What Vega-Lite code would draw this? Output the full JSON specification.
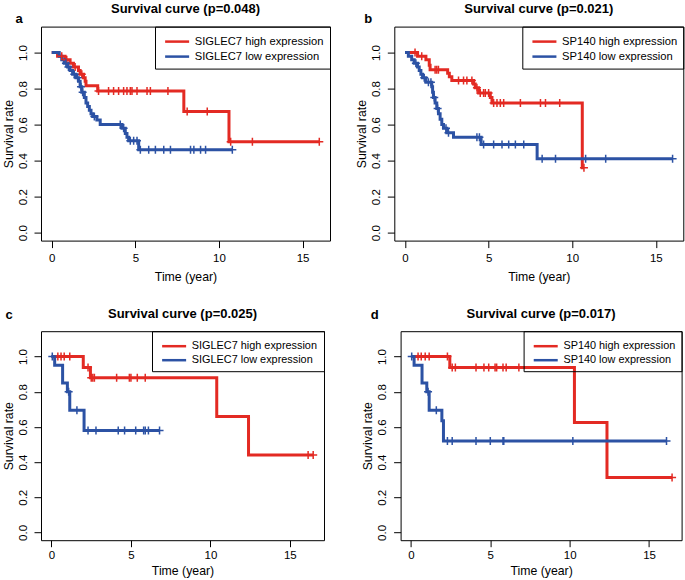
{
  "$schema": "https://vega.github.io/schema/vega-lite/v6.json",
  "padding": {"left": 1, "top": 1.6, "right": 0, "bottom": 0},
  "background": "white",
  "config": {
    "font": "Liberation Sans",
    "view": {"stroke": "#000", "strokeWidth": 1},
    "axis": {"grid": false, "domain": false, "ticks": true, "tickColor": "#000", "tickSize": 7, "tickWidth": 1, "labelFont": "Liberation Sans", "labelFontSize": 11.5, "labelColor": "#000", "labelPadding": 5, "labelFlush": false, "titleFont": "Liberation Sans", "titleFontSize": 12.3, "titleFontWeight": "normal", "titleColor": "#000"},
    "axisX": {"titlePadding": 6},
    "axisY": {"labelAngle": 270, "labelAlign": "center", "labelBaseline": "bottom", "labelPadding": 6, "titlePadding": 2},
    "title": {"font": "Liberation Sans", "fontSize": 13, "fontWeight": "bold", "color": "#000", "frame": "group", "anchor": "middle", "baseline": "alphabetic", "offset": 0},
    "legend": {"orient": "top-right", "offset": 0, "padding": 6, "strokeColor": "#000", "strokeWidth": 1, "labelFont": "Liberation Sans", "labelFontSize": 11.2, "labelColor": "#000", "labelOffset": 15.8, "rowPadding": 0, "symbolType": "M-0.65,0H2.55", "symbolSize": 225, "symbolStrokeWidth": 2.5, "labelLimit": 0}
  },
  "datasets": {
    "a": [
      {"g":"SIGLEC7 high expression","t":0,"s":1,"c":0},{"g":"SIGLEC7 high expression","t":0.35,"s":0.98,"c":0},{"g":"SIGLEC7 high expression","t":0.6,"s":0.98,"c":1},{"g":"SIGLEC7 high expression","t":0.8,"s":0.96,"c":0},{"g":"SIGLEC7 high expression","t":0.9,"s":0.96,"c":1},{"g":"SIGLEC7 high expression","t":1.1,"s":0.94,"c":0},{"g":"SIGLEC7 high expression","t":1.3,"s":0.92,"c":0},{"g":"SIGLEC7 high expression","t":1.4,"s":0.92,"c":1},{"g":"SIGLEC7 high expression","t":1.6,"s":0.9,"c":0},{"g":"SIGLEC7 high expression","t":1.7,"s":0.88,"c":0},{"g":"SIGLEC7 high expression","t":1.8,"s":0.88,"c":1},{"g":"SIGLEC7 high expression","t":1.9,"s":0.86,"c":0},{"g":"SIGLEC7 high expression","t":2.0,"s":0.84,"c":0},{"g":"SIGLEC7 high expression","t":2.05,"s":0.815,"c":0},{"g":"SIGLEC7 high expression","t":2.75,"s":0.787,"c":0},{"g":"SIGLEC7 high expression","t":2.8,"s":0.787,"c":1},{"g":"SIGLEC7 high expression","t":3.4,"s":0.787,"c":1},{"g":"SIGLEC7 high expression","t":3.7,"s":0.787,"c":1},{"g":"SIGLEC7 high expression","t":4.0,"s":0.787,"c":1},{"g":"SIGLEC7 high expression","t":4.3,"s":0.787,"c":1},{"g":"SIGLEC7 high expression","t":4.5,"s":0.787,"c":1},{"g":"SIGLEC7 high expression","t":4.7,"s":0.787,"c":1},{"g":"SIGLEC7 high expression","t":4.8,"s":0.787,"c":1},{"g":"SIGLEC7 high expression","t":5.1,"s":0.787,"c":1},{"g":"SIGLEC7 high expression","t":5.7,"s":0.787,"c":1},{"g":"SIGLEC7 high expression","t":5.9,"s":0.787,"c":1},{"g":"SIGLEC7 high expression","t":6.95,"s":0.787,"c":1},{"g":"SIGLEC7 high expression","t":7.9,"s":0.673,"c":0},{"g":"SIGLEC7 high expression","t":8.1,"s":0.673,"c":1},{"g":"SIGLEC7 high expression","t":9.3,"s":0.673,"c":1},{"g":"SIGLEC7 high expression","t":10.6,"s":0.505,"c":0},{"g":"SIGLEC7 high expression","t":10.7,"s":0.505,"c":1},{"g":"SIGLEC7 high expression","t":12.0,"s":0.505,"c":1},{"g":"SIGLEC7 high expression","t":16.0,"s":0.505,"c":1},
      {"g":"SIGLEC7 low expression","t":0,"s":1,"c":0},{"g":"SIGLEC7 low expression","t":0.45,"s":0.98,"c":0},{"g":"SIGLEC7 low expression","t":0.6,"s":0.96,"c":0},{"g":"SIGLEC7 low expression","t":0.75,"s":0.94,"c":0},{"g":"SIGLEC7 low expression","t":0.85,"s":0.94,"c":1},{"g":"SIGLEC7 low expression","t":0.95,"s":0.92,"c":0},{"g":"SIGLEC7 low expression","t":1.0,"s":0.92,"c":1},{"g":"SIGLEC7 low expression","t":1.1,"s":0.9,"c":0},{"g":"SIGLEC7 low expression","t":1.25,"s":0.88,"c":0},{"g":"SIGLEC7 low expression","t":1.35,"s":0.88,"c":1},{"g":"SIGLEC7 low expression","t":1.45,"s":0.86,"c":0},{"g":"SIGLEC7 low expression","t":1.55,"s":0.86,"c":1},{"g":"SIGLEC7 low expression","t":1.6,"s":0.84,"c":0},{"g":"SIGLEC7 low expression","t":1.7,"s":0.81,"c":0},{"g":"SIGLEC7 low expression","t":1.75,"s":0.81,"c":1},{"g":"SIGLEC7 low expression","t":1.8,"s":0.78,"c":0},{"g":"SIGLEC7 low expression","t":1.85,"s":0.78,"c":1},{"g":"SIGLEC7 low expression","t":1.95,"s":0.75,"c":0},{"g":"SIGLEC7 low expression","t":2.05,"s":0.72,"c":0},{"g":"SIGLEC7 low expression","t":2.15,"s":0.7,"c":0},{"g":"SIGLEC7 low expression","t":2.25,"s":0.68,"c":0},{"g":"SIGLEC7 low expression","t":2.35,"s":0.66,"c":0},{"g":"SIGLEC7 low expression","t":2.45,"s":0.645,"c":0},{"g":"SIGLEC7 low expression","t":2.55,"s":0.645,"c":1},{"g":"SIGLEC7 low expression","t":2.7,"s":0.625,"c":0},{"g":"SIGLEC7 low expression","t":2.9,"s":0.6,"c":0},{"g":"SIGLEC7 low expression","t":4.1,"s":0.6,"c":1},{"g":"SIGLEC7 low expression","t":4.2,"s":0.58,"c":0},{"g":"SIGLEC7 low expression","t":4.3,"s":0.58,"c":1},{"g":"SIGLEC7 low expression","t":4.4,"s":0.55,"c":0},{"g":"SIGLEC7 low expression","t":4.5,"s":0.53,"c":0},{"g":"SIGLEC7 low expression","t":4.6,"s":0.51,"c":0},{"g":"SIGLEC7 low expression","t":4.7,"s":0.51,"c":1},{"g":"SIGLEC7 low expression","t":4.9,"s":0.51,"c":1},{"g":"SIGLEC7 low expression","t":5.1,"s":0.51,"c":1},{"g":"SIGLEC7 low expression","t":5.2,"s":0.46,"c":0},{"g":"SIGLEC7 low expression","t":5.3,"s":0.46,"c":1},{"g":"SIGLEC7 low expression","t":5.8,"s":0.46,"c":1},{"g":"SIGLEC7 low expression","t":6.2,"s":0.46,"c":1},{"g":"SIGLEC7 low expression","t":6.7,"s":0.46,"c":1},{"g":"SIGLEC7 low expression","t":7.1,"s":0.46,"c":1},{"g":"SIGLEC7 low expression","t":8.3,"s":0.46,"c":1},{"g":"SIGLEC7 low expression","t":8.5,"s":0.46,"c":1},{"g":"SIGLEC7 low expression","t":8.9,"s":0.46,"c":1},{"g":"SIGLEC7 low expression","t":9.2,"s":0.46,"c":1},{"g":"SIGLEC7 low expression","t":10.8,"s":0.46,"c":1}
    ],
    "b": [
      {"g":"SP140 high expression","t":0,"s":1,"c":0},{"g":"SP140 high expression","t":0.6,"s":1,"c":1},{"g":"SP140 high expression","t":0.75,"s":0.98,"c":0},{"g":"SP140 high expression","t":1.0,"s":0.98,"c":1},{"g":"SP140 high expression","t":1.25,"s":0.96,"c":0},{"g":"SP140 high expression","t":1.45,"s":0.93,"c":0},{"g":"SP140 high expression","t":1.5,"s":0.905,"c":0},{"g":"SP140 high expression","t":1.8,"s":0.905,"c":1},{"g":"SP140 high expression","t":1.9,"s":0.905,"c":1},{"g":"SP140 high expression","t":2.0,"s":0.905,"c":1},{"g":"SP140 high expression","t":2.55,"s":0.885,"c":0},{"g":"SP140 high expression","t":2.65,"s":0.865,"c":0},{"g":"SP140 high expression","t":2.8,"s":0.845,"c":0},{"g":"SP140 high expression","t":3.2,"s":0.845,"c":1},{"g":"SP140 high expression","t":3.5,"s":0.845,"c":1},{"g":"SP140 high expression","t":3.7,"s":0.845,"c":1},{"g":"SP140 high expression","t":4.0,"s":0.845,"c":1},{"g":"SP140 high expression","t":4.1,"s":0.825,"c":0},{"g":"SP140 high expression","t":4.2,"s":0.805,"c":0},{"g":"SP140 high expression","t":4.3,"s":0.805,"c":1},{"g":"SP140 high expression","t":4.4,"s":0.775,"c":0},{"g":"SP140 high expression","t":4.5,"s":0.775,"c":1},{"g":"SP140 high expression","t":4.7,"s":0.775,"c":1},{"g":"SP140 high expression","t":4.8,"s":0.775,"c":1},{"g":"SP140 high expression","t":5.0,"s":0.775,"c":1},{"g":"SP140 high expression","t":5.1,"s":0.75,"c":0},{"g":"SP140 high expression","t":5.2,"s":0.72,"c":0},{"g":"SP140 high expression","t":5.3,"s":0.72,"c":1},{"g":"SP140 high expression","t":5.5,"s":0.72,"c":1},{"g":"SP140 high expression","t":5.7,"s":0.72,"c":1},{"g":"SP140 high expression","t":5.9,"s":0.72,"c":1},{"g":"SP140 high expression","t":6.9,"s":0.72,"c":1},{"g":"SP140 high expression","t":8.1,"s":0.72,"c":1},{"g":"SP140 high expression","t":8.4,"s":0.72,"c":1},{"g":"SP140 high expression","t":9.25,"s":0.72,"c":1},{"g":"SP140 high expression","t":10.6,"s":0.36,"c":0},{"g":"SP140 high expression","t":10.7,"s":0.36,"c":1},
      {"g":"SP140 low expression","t":0,"s":1,"c":0},{"g":"SP140 low expression","t":0.2,"s":0.98,"c":0},{"g":"SP140 low expression","t":0.4,"s":0.96,"c":0},{"g":"SP140 low expression","t":0.55,"s":0.94,"c":0},{"g":"SP140 low expression","t":0.65,"s":0.94,"c":1},{"g":"SP140 low expression","t":0.75,"s":0.92,"c":0},{"g":"SP140 low expression","t":0.85,"s":0.9,"c":0},{"g":"SP140 low expression","t":0.95,"s":0.88,"c":0},{"g":"SP140 low expression","t":1.05,"s":0.86,"c":0},{"g":"SP140 low expression","t":1.15,"s":0.86,"c":1},{"g":"SP140 low expression","t":1.25,"s":0.835,"c":0},{"g":"SP140 low expression","t":1.4,"s":0.835,"c":1},{"g":"SP140 low expression","t":1.55,"s":0.835,"c":1},{"g":"SP140 low expression","t":1.6,"s":0.81,"c":0},{"g":"SP140 low expression","t":1.65,"s":0.78,"c":0},{"g":"SP140 low expression","t":1.7,"s":0.75,"c":0},{"g":"SP140 low expression","t":1.75,"s":0.75,"c":1},{"g":"SP140 low expression","t":1.8,"s":0.72,"c":0},{"g":"SP140 low expression","t":1.9,"s":0.69,"c":0},{"g":"SP140 low expression","t":1.95,"s":0.69,"c":1},{"g":"SP140 low expression","t":2.0,"s":0.66,"c":0},{"g":"SP140 low expression","t":2.1,"s":0.63,"c":0},{"g":"SP140 low expression","t":2.2,"s":0.6,"c":0},{"g":"SP140 low expression","t":2.3,"s":0.58,"c":0},{"g":"SP140 low expression","t":2.45,"s":0.58,"c":1},{"g":"SP140 low expression","t":2.5,"s":0.555,"c":0},{"g":"SP140 low expression","t":2.6,"s":0.555,"c":1},{"g":"SP140 low expression","t":2.9,"s":0.53,"c":0},{"g":"SP140 low expression","t":4.3,"s":0.53,"c":1},{"g":"SP140 low expression","t":4.45,"s":0.53,"c":1},{"g":"SP140 low expression","t":4.55,"s":0.49,"c":0},{"g":"SP140 low expression","t":4.7,"s":0.49,"c":1},{"g":"SP140 low expression","t":5.3,"s":0.49,"c":1},{"g":"SP140 low expression","t":5.8,"s":0.49,"c":1},{"g":"SP140 low expression","t":6.2,"s":0.49,"c":1},{"g":"SP140 low expression","t":6.6,"s":0.49,"c":1},{"g":"SP140 low expression","t":7.1,"s":0.49,"c":1},{"g":"SP140 low expression","t":7.9,"s":0.41,"c":0},{"g":"SP140 low expression","t":8.2,"s":0.41,"c":1},{"g":"SP140 low expression","t":9.0,"s":0.41,"c":1},{"g":"SP140 low expression","t":10.8,"s":0.41,"c":1},{"g":"SP140 low expression","t":12.0,"s":0.41,"c":1},{"g":"SP140 low expression","t":16.0,"s":0.41,"c":1}
    ],
    "c": [
      {"g":"SIGLEC7 high expression","t":0,"s":1,"c":0},{"g":"SIGLEC7 high expression","t":0.4,"s":1,"c":1},{"g":"SIGLEC7 high expression","t":0.6,"s":1,"c":1},{"g":"SIGLEC7 high expression","t":0.8,"s":1,"c":1},{"g":"SIGLEC7 high expression","t":1.15,"s":1,"c":1},{"g":"SIGLEC7 high expression","t":2.0,"s":0.9375,"c":0},{"g":"SIGLEC7 high expression","t":2.3,"s":0.9375,"c":1},{"g":"SIGLEC7 high expression","t":2.45,"s":0.879,"c":0},{"g":"SIGLEC7 high expression","t":2.5,"s":0.879,"c":1},{"g":"SIGLEC7 high expression","t":2.6,"s":0.879,"c":1},{"g":"SIGLEC7 high expression","t":2.7,"s":0.879,"c":1},{"g":"SIGLEC7 high expression","t":4.1,"s":0.879,"c":1},{"g":"SIGLEC7 high expression","t":4.9,"s":0.879,"c":1},{"g":"SIGLEC7 high expression","t":5.0,"s":0.879,"c":1},{"g":"SIGLEC7 high expression","t":5.4,"s":0.879,"c":1},{"g":"SIGLEC7 high expression","t":5.9,"s":0.879,"c":1},{"g":"SIGLEC7 high expression","t":10.4,"s":0.659,"c":0},{"g":"SIGLEC7 high expression","t":12.4,"s":0.44,"c":0},{"g":"SIGLEC7 high expression","t":16.15,"s":0.44,"c":1},{"g":"SIGLEC7 high expression","t":16.47,"s":0.44,"c":1},
      {"g":"SIGLEC7 low expression","t":0,"s":1,"c":0},{"g":"SIGLEC7 low expression","t":0.05,"s":1,"c":1},{"g":"SIGLEC7 low expression","t":0.2,"s":0.95,"c":0},{"g":"SIGLEC7 low expression","t":0.7,"s":0.85,"c":0},{"g":"SIGLEC7 low expression","t":1.0,"s":0.8,"c":0},{"g":"SIGLEC7 low expression","t":1.08,"s":0.8,"c":1},{"g":"SIGLEC7 low expression","t":1.15,"s":0.695,"c":0},{"g":"SIGLEC7 low expression","t":1.6,"s":0.695,"c":1},{"g":"SIGLEC7 low expression","t":2.05,"s":0.58,"c":0},{"g":"SIGLEC7 low expression","t":2.3,"s":0.58,"c":1},{"g":"SIGLEC7 low expression","t":2.8,"s":0.58,"c":1},{"g":"SIGLEC7 low expression","t":4.2,"s":0.58,"c":1},{"g":"SIGLEC7 low expression","t":4.6,"s":0.58,"c":1},{"g":"SIGLEC7 low expression","t":5.3,"s":0.58,"c":1},{"g":"SIGLEC7 low expression","t":5.8,"s":0.58,"c":1},{"g":"SIGLEC7 low expression","t":5.9,"s":0.58,"c":1},{"g":"SIGLEC7 low expression","t":6.1,"s":0.58,"c":1},{"g":"SIGLEC7 low expression","t":6.8,"s":0.58,"c":1}
    ],
    "d": [
      {"g":"SP140 high expression","t":0,"s":1,"c":0},{"g":"SP140 high expression","t":0.45,"s":1,"c":1},{"g":"SP140 high expression","t":0.65,"s":1,"c":1},{"g":"SP140 high expression","t":0.9,"s":1,"c":1},{"g":"SP140 high expression","t":1.15,"s":1,"c":1},{"g":"SP140 high expression","t":2.3,"s":1,"c":1},{"g":"SP140 high expression","t":2.45,"s":0.9375,"c":0},{"g":"SP140 high expression","t":2.6,"s":0.9375,"c":1},{"g":"SP140 high expression","t":2.8,"s":0.9375,"c":1},{"g":"SP140 high expression","t":4.1,"s":0.9375,"c":1},{"g":"SP140 high expression","t":4.6,"s":0.9375,"c":1},{"g":"SP140 high expression","t":4.9,"s":0.9375,"c":1},{"g":"SP140 high expression","t":5.3,"s":0.9375,"c":1},{"g":"SP140 high expression","t":5.4,"s":0.9375,"c":1},{"g":"SP140 high expression","t":5.8,"s":0.9375,"c":1},{"g":"SP140 high expression","t":6.0,"s":0.9375,"c":1},{"g":"SP140 high expression","t":6.8,"s":0.9375,"c":1},{"g":"SP140 high expression","t":10.3,"s":0.625,"c":0},{"g":"SP140 high expression","t":12.35,"s":0.3125,"c":0},{"g":"SP140 high expression","t":16.45,"s":0.3125,"c":1},
      {"g":"SP140 low expression","t":0,"s":1,"c":0},{"g":"SP140 low expression","t":0.05,"s":1,"c":1},{"g":"SP140 low expression","t":0.2,"s":0.95,"c":0},{"g":"SP140 low expression","t":0.7,"s":0.85,"c":0},{"g":"SP140 low expression","t":1.0,"s":0.8,"c":0},{"g":"SP140 low expression","t":1.08,"s":0.8,"c":1},{"g":"SP140 low expression","t":1.15,"s":0.695,"c":0},{"g":"SP140 low expression","t":1.6,"s":0.695,"c":1},{"g":"SP140 low expression","t":1.95,"s":0.635,"c":0},{"g":"SP140 low expression","t":2.05,"s":0.52,"c":0},{"g":"SP140 low expression","t":2.3,"s":0.52,"c":1},{"g":"SP140 low expression","t":2.6,"s":0.52,"c":1},{"g":"SP140 low expression","t":4.1,"s":0.52,"c":1},{"g":"SP140 low expression","t":5.0,"s":0.52,"c":1},{"g":"SP140 low expression","t":5.8,"s":0.52,"c":1},{"g":"SP140 low expression","t":5.85,"s":0.52,"c":1},{"g":"SP140 low expression","t":10.2,"s":0.52,"c":1},{"g":"SP140 low expression","t":16.1,"s":0.52,"c":1}
    ]
  },
  "spacing": 22.6,
  "resolve": {"scale": {"color": "independent"}, "legend": {"color": "independent"}},
  "vconcat": [
    {
      "spacing": 23.3,
      "resolve": {"scale": {"color": "independent"}, "legend": {"color": "independent"}},
      "hconcat": [
        {
          "data": {"name": "a"},
          "width": 289, "height": 214,
          "title": {"text": "Survival curve (p=0.048)", "offset": -3.6},
          "layer": [
            {
              "mark": {"type": "line", "interpolate": "step-after", "strokeWidth": 3},
              "encoding": {
                "x": {"field": "t", "type": "quantitative", "scale": {"domain": [-0.64, 16.64], "nice": false, "zero": false}, "axis": {"values": [0, 5, 10, 15], "title": "Time (year)"}},
                "y": {"field": "s", "type": "quantitative", "scale": {"domain": [-0.044, 1.144], "nice": false, "zero": false}, "axis": {"values": [0, 0.2, 0.4, 0.6, 0.8, 1], "format": ".1f", "title": "Survival rate"}},
                "color": {"field": "g", "type": "nominal", "scale": {"domain": ["SIGLEC7 high expression", "SIGLEC7 low expression"], "range": ["#E32A23", "#2C52A4"]}, "legend": {"title": null}}
              }
            },
            {
              "transform": [{"filter": "datum.c == 1"}],
              "mark": {"type": "point", "shape": "M-1,0H1M0,-1V1", "size": 64, "filled": false, "strokeWidth": 1.5, "opacity": 1},
              "encoding": {
                "x": {"field": "t", "type": "quantitative", "axis": {"orient": "top", "labels": false, "ticks": false, "domain": false, "title": "a", "titleFontWeight": "bold", "titleFontSize": 13, "titleAlign": "left", "titleAngle": 0, "titleBaseline": "alphabetic", "titleX": -26, "titleY": -4}},
                "y": {"field": "s", "type": "quantitative"},
                "color": {"field": "g", "type": "nominal"}
              }
            }
          ],
          "resolve": {"axis": {"x": "independent"}}
        },
        {
          "data": {"name": "b"},
          "width": 289, "height": 214,
          "title": {"text": "Survival curve (p=0.021)", "offset": -3.6},
          "layer": [
            {
              "mark": {"type": "line", "interpolate": "step-after", "strokeWidth": 3},
              "encoding": {
                "x": {"field": "t", "type": "quantitative", "scale": {"domain": [-0.64, 16.64], "nice": false, "zero": false}, "axis": {"values": [0, 5, 10, 15], "title": "Time (year)"}},
                "y": {"field": "s", "type": "quantitative", "scale": {"domain": [-0.044, 1.144], "nice": false, "zero": false}, "axis": {"values": [0, 0.2, 0.4, 0.6, 0.8, 1], "format": ".1f", "title": "Survival rate"}},
                "color": {"field": "g", "type": "nominal", "scale": {"domain": ["SP140 high expression", "SP140 low expression"], "range": ["#E32A23", "#2C52A4"]}, "legend": {"title": null}}
              }
            },
            {
              "transform": [{"filter": "datum.c == 1"}],
              "mark": {"type": "point", "shape": "M-1,0H1M0,-1V1", "size": 64, "filled": false, "strokeWidth": 1.5, "opacity": 1},
              "encoding": {
                "x": {"field": "t", "type": "quantitative", "axis": {"orient": "top", "labels": false, "ticks": false, "domain": false, "title": "b", "titleFontWeight": "bold", "titleFontSize": 13, "titleAlign": "left", "titleAngle": 0, "titleBaseline": "alphabetic", "titleX": -30.5, "titleY": -4.5}},
                "y": {"field": "s", "type": "quantitative"},
                "color": {"field": "g", "type": "nominal"}
              }
            }
          ],
          "resolve": {"axis": {"x": "independent"}}
        }
      ]
    },
    {
      "spacing": 35.6,
      "resolve": {"scale": {"color": "independent"}, "legend": {"color": "independent"}},
      "hconcat": [
        {
          "data": {"name": "c"},
          "width": 283, "height": 209,
          "title": {"text": "Survival curve (p=0.025)", "offset": -12},
          "layer": [
            {
              "mark": {"type": "line", "interpolate": "step-after", "strokeWidth": 3},
              "encoding": {
                "x": {"field": "t", "type": "quantitative", "scale": {"domain": [-0.66, 17.15], "nice": false, "zero": false}, "axis": {"values": [0, 5, 10, 15], "title": "Time (year)", "labelPadding": 3, "titlePadding": 3, "tickSize": 6.5}},
                "y": {"field": "s", "type": "quantitative", "scale": {"domain": [-0.044, 1.144], "nice": false, "zero": false}, "axis": {"values": [0, 0.2, 0.4, 0.6, 0.8, 1], "format": ".1f", "title": "Survival rate"}},
                "color": {"field": "g", "type": "nominal", "scale": {"domain": ["SIGLEC7 high expression", "SIGLEC7 low expression"], "range": ["#E32A23", "#2C52A4"]}, "legend": {"title": null, "labelFontSize": 10.9}}
              }
            },
            {
              "transform": [{"filter": "datum.c == 1"}],
              "mark": {"type": "point", "shape": "M-1,0H1M0,-1V1", "size": 64, "filled": false, "strokeWidth": 1.5, "opacity": 1},
              "encoding": {
                "x": {"field": "t", "type": "quantitative", "axis": {"orient": "top", "labels": false, "ticks": false, "domain": false, "title": "c", "titleFontWeight": "bold", "titleFontSize": 13, "titleAlign": "left", "titleAngle": 0, "titleBaseline": "alphabetic", "titleX": -36, "titleY": -12.6}},
                "y": {"field": "s", "type": "quantitative"},
                "color": {"field": "g", "type": "nominal"}
              }
            }
          ],
          "resolve": {"axis": {"x": "independent"}}
        },
        {
          "data": {"name": "d"},
          "width": 281, "height": 209,
          "title": {"text": "Survival curve (p=0.017)", "offset": -12},
          "layer": [
            {
              "mark": {"type": "line", "interpolate": "step-after", "strokeWidth": 3},
              "encoding": {
                "x": {"field": "t", "type": "quantitative", "scale": {"domain": [-0.65, 17.05], "nice": false, "zero": false}, "axis": {"values": [0, 5, 10, 15], "title": "Time (year)", "labelPadding": 3, "titlePadding": 3, "tickSize": 6.5}},
                "y": {"field": "s", "type": "quantitative", "scale": {"domain": [-0.044, 1.144], "nice": false, "zero": false}, "axis": {"values": [0, 0.2, 0.4, 0.6, 0.8, 1], "format": ".1f", "title": "Survival rate"}},
                "color": {"field": "g", "type": "nominal", "scale": {"domain": ["SP140 high expression", "SP140 low expression"], "range": ["#E32A23", "#2C52A4"]}, "legend": {"title": null, "labelFontSize": 10.9}}
              }
            },
            {
              "transform": [{"filter": "datum.c == 1"}],
              "mark": {"type": "point", "shape": "M-1,0H1M0,-1V1", "size": 64, "filled": false, "strokeWidth": 1.5, "opacity": 1},
              "encoding": {
                "x": {"field": "t", "type": "quantitative", "axis": {"orient": "top", "labels": false, "ticks": false, "domain": false, "title": "d", "titleFontWeight": "bold", "titleFontSize": 13, "titleAlign": "left", "titleAngle": 0, "titleBaseline": "alphabetic", "titleX": -30.3, "titleY": -12.6}},
                "y": {"field": "s", "type": "quantitative"},
                "color": {"field": "g", "type": "nominal"}
              }
            }
          ],
          "resolve": {"axis": {"x": "independent"}}
        }
      ]
    }
  ]
}
